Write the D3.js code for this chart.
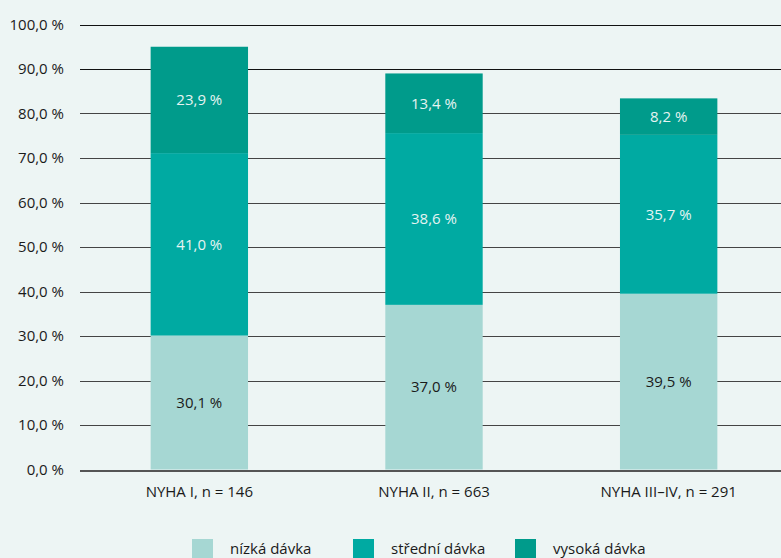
<!DOCTYPE html>
<meta charset="utf-8">
<head>
<style>
  body { margin: 0; background: #edf5f4; }
  svg { display: block; background: #edf5f4; }
  text { font-family: 'Open Sans', sans-serif; fill: #1a1a1a; }
  .grid line { stroke: #222; stroke-width: 1px; shape-rendering: crispEdges; }
  .tick-label { font-size: 15px; }
  .cat-label { font-size: 15px; }
  .seg-label { font-size: 15px; }
  .legend text { font-size: 15px; }
</style>
<title>NYHA dávky</title>
</head>
<body>
<svg id="chart" width="781" height="558"></svg>
<script src="https://d3js.org/d3.v7.min.js"></script>
<script>
// data
var categories = ["NYHA I, n = 146", "NYHA II, n = 663", "NYHA III\u2013IV, n = 291"];
var seriesNames = ["nízká dávka", "střední dávka", "vysoká dávka"];
var lowDose = [30.1, 37.0, 39.5];
var midDose = [41.0, 38.6, 35.7];
var highDose = [23.9, 13.4, 8.2];
var yTicks = [0, 10, 20, 30, 40, 50, 60, 70, 80, 90, 100];

var colors = ["#a6d7d3", "#00aaa2", "#009b8b"];
var labelColors = ["#1a1a1a", "#e6f4f2", "#e6f4f2"];

var svg = d3.select("#chart");

var x = d3.scaleBand()
    .domain(categories)
    .range([82, 786])
    .paddingInner(0.585)
    .paddingOuter(0.2925);

var y = d3.scaleLinear()
    .domain([0, 100])
    .range([469.5, 24.5]);

var fmt = function(v) { return d3.format(".1f")(v).replace(".", ",") + " %"; };

// gridlines
var grid = svg.append("g").attr("class", "grid");
grid.selectAll("line")
  .data(yTicks)
  .enter().append("line")
    .attr("x1", 80)
    .attr("x2", 781)
    .attr("y1", function(d) { return Math.round(y(d)) + 0.5; })
    .attr("y2", function(d) { return Math.round(y(d)) + 0.5; })
    .style("stroke", function(d) { return d === 0 ? "#555" : (d >= 90 ? "#111" : "#444"); })
    .style("stroke-width", function(d) { return d === 0 ? 2 : 1; });

// y axis labels
svg.append("g").selectAll("text")
  .data(yTicks)
  .enter().append("text")
    .attr("class", "tick-label")
    .attr("x", 64)
    .attr("y", function(d) { return y(d); })
    .attr("dy", "0.35em")
    .attr("text-anchor", "end")
    .text(function(d) { return fmt(d); });

// stacked data
var rows = categories.map(function(c, i) {
  return { cat: c, low: lowDose[i], mid: midDose[i], high: highDose[i] };
});
var stack = d3.stack().keys(["low", "mid", "high"]);
var series = stack(rows);

var layers = svg.append("g").selectAll("g")
  .data(series)
  .enter().append("g")
    .attr("fill", function(d, i) { return colors[i]; });

layers.selectAll("rect")
  .data(function(d) { return d; })
  .enter().append("rect")
    .attr("x", function(d) { return x(d.data.cat); })
    .attr("width", x.bandwidth())
    .attr("y", function(d) { return y(d[1]); })
    .attr("height", function(d) { return y(d[0]) - y(d[1]); });

layers.each(function(s, i) {
  d3.select(this).selectAll("text")
    .data(s)
    .enter().append("text")
      .attr("class", "seg-label")
      .attr("x", function(d) { return x(d.data.cat) + x.bandwidth() / 2; })
      .attr("y", function(d) { return y((d[0] + d[1]) / 2); })
      .attr("dy", "0.35em")
      .attr("text-anchor", "middle")
      .style("fill", labelColors[i])
      .text(function(d) { return fmt(d[1] - d[0]); });
});

// category labels
svg.append("g").selectAll("text")
  .data(categories)
  .enter().append("text")
    .attr("class", "cat-label")
    .attr("x", function(d) { return x(d) + x.bandwidth() / 2; })
    .attr("y", 497)
    .attr("text-anchor", "middle")
    .text(function(d) { return d; });

// legend
var legendX = [192, 353, 515];
var legend = svg.append("g").attr("class", "legend")
  .selectAll("g")
  .data(seriesNames)
  .enter().append("g")
    .attr("transform", function(d, i) { return "translate(" + legendX[i] + ",539)"; });

legend.append("rect")
    .attr("width", 21)
    .attr("height", 20)
    .attr("fill", function(d, i) { return colors[i]; });

legend.append("text")
    .attr("x", 38)
    .attr("y", 15)
    .text(function(d) { return d; });
</script>
</body>
